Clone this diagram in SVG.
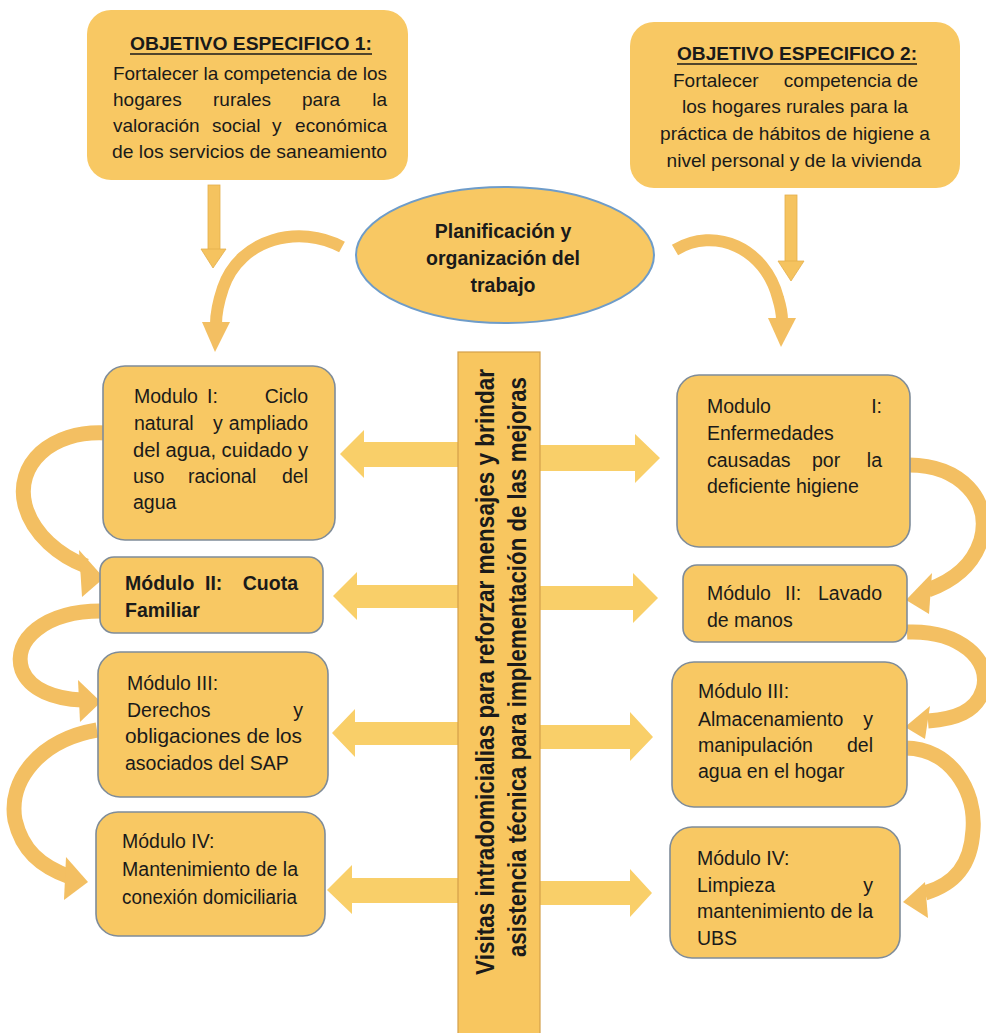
<svg xmlns="http://www.w3.org/2000/svg" width="986" height="1033" viewBox="0 0 986 1033">
<style>
.box{fill:#F8C863;stroke:#7F8C99;stroke-width:1.6}
.obj{fill:#F8C863;stroke:none}
.t{font-family:"Liberation Sans",Arial,sans-serif;font-size:19.5px;fill:#1a1a1a}
.o{font-family:"Liberation Sans",Arial,sans-serif;font-size:19px;fill:#1a1a1a}
.b{font-weight:bold}
.e{text-anchor:end}
.m{text-anchor:middle}
.arr{fill:#F9CF69}
.curve{fill:none;stroke:#F3BF62;stroke-width:15}
.chead{fill:#F3BF62}
.down{fill:#F5C35F;stroke:#E3AE4C;stroke-width:0.8}
</style>
<rect width="986" height="1033" fill="#ffffff"/>

<g id="connectors">
  <!-- top down arrows -->
  <rect class="down" x="208" y="185" width="12" height="65"/>
  <polygon class="down" points="201,249 226,249 213,268"/>
  <rect class="down" x="785" y="195" width="12" height="67"/>
  <polygon class="down" points="778,261 804,261 791,281"/>
  <!-- top curved arrows -->
  <path class="curve" style="stroke-width:12" d="M 342 247 C 300 224, 240 238, 223 288 C 218 303, 216 313, 216 324"/>
  <polygon class="chead" points="202,322 230,322 215,352"/>
  <path class="curve" style="stroke-width:12" d="M 675 250 C 715 226, 765 248, 778 298 C 781 308, 782 314, 782 320"/>
  <polygon class="chead" points="768,318 796,318 781,347"/>
  <!-- left side curved arrows -->
  <path class="curve" d="M 106 433 C 50 430, 15 465, 25 505 C 33 535, 60 556, 86 566"/>
  <polygon class="chead" points="79,550 104,578 82,597"/>
  <path class="curve" d="M 101 611 C 45 611, 12 640, 22 670 C 30 690, 55 699, 82 700"/>
  <polygon class="chead" points="78,680 101,702 80,722"/>
  <path class="curve" d="M 97 730 C 40 740, 8 780, 15 820 C 22 850, 40 866, 70 877"/>
  <polygon class="chead" points="66,857 88,882 64,900"/>
  <!-- right side curved arrows -->
  <path class="curve" d="M 909 465 C 960 465, 992 500, 981 540 C 973 565, 955 580, 928 590"/>
  <polygon class="chead" points="932,573 906,600 929,614"/>
  <path class="curve" d="M 907 632 C 960 630, 992 660, 983 690 C 976 712, 955 719, 928 721"/>
  <polygon class="chead" points="930,706 905,727 925,739"/>
  <path class="curve" d="M 905 748 C 950 748, 976 790, 973 830 C 971 865, 955 884, 925 893"/>
  <polygon class="chead" points="925,882 903,902 928,918"/>
  <!-- horizontal double arrows -->
  <polygon class="arr" points="340,454 364,430 364,442 470,442 470,467 364,467 364,478"/>
  <polygon class="arr" points="530,445 635,445 635,434 660,458 635,483 635,471 530,471"/>
  <polygon class="arr" points="333,596 357,572 357,585 470,585 470,608 357,608 357,620"/>
  <polygon class="arr" points="530,586 633,586 633,573 658,598 633,623 633,610 530,610"/>
  <polygon class="arr" points="332,733 355,709 355,722 470,722 470,745 355,745 355,757"/>
  <polygon class="arr" points="530,725 630,725 630,712 653,737 630,761 630,749 530,749"/>
  <polygon class="arr" points="327,890 352,865 352,878 470,878 470,903 352,903 352,914"/>
  <polygon class="arr" points="530,881 630,881 630,869 652,893 630,917 630,905 530,905"/>
</g>

<g id="objetivo1">
  <rect class="obj" x="87" y="10" width="321" height="170" rx="24"/>
  <text class="o b m" x="251" y="50" textLength="242" lengthAdjust="spacingAndGlyphs">OBJETIVO ESPECIFICO 1:</text>
  <line x1="130" y1="54" x2="372" y2="54" stroke="#1a1a1a" stroke-width="1.6"/>
  <text class="o" x="113" y="80" textLength="274" lengthAdjust="spacingAndGlyphs">Fortalecer la competencia de los</text>
  <text class="o" y="106"><tspan x="113">hogares</tspan><tspan x="213">rurales</tspan><tspan x="302">para</tspan></text>
  <text class="o e" x="387" y="106">la</text>
  <text class="o" y="132"><tspan x="113">valoración</tspan><tspan x="212">social</tspan><tspan x="272">y</tspan></text>
  <text class="o e" x="387" y="132">económica</text>
  <text class="o" x="112" y="158" textLength="275" lengthAdjust="spacingAndGlyphs">de los servicios de saneamiento</text>
</g>

<g id="objetivo2">
  <rect class="obj" x="630" y="22" width="330" height="166" rx="24"/>
  <text class="o b m" x="797" y="60" textLength="240" lengthAdjust="spacingAndGlyphs">OBJETIVO ESPECIFICO 2:</text>
  <line x1="677" y1="64" x2="917" y2="64" stroke="#1a1a1a" stroke-width="1.6"/>
  <text class="o" x="673" y="87">Fortalecer</text>
  <text class="o e" x="918" y="87">competencia de</text>
  <text class="o m" x="795" y="113" textLength="226" lengthAdjust="spacingAndGlyphs">los hogares rurales para la</text>
  <text class="o m" x="795" y="140" textLength="270" lengthAdjust="spacingAndGlyphs">práctica de hábitos de higiene a</text>
  <text class="o m" x="794" y="167" textLength="255" lengthAdjust="spacingAndGlyphs">nivel personal y de la vivienda</text>
</g>

<g id="planificacion">
  <ellipse cx="505" cy="255" rx="149" ry="68" fill="#F8C863" stroke="#6E9CC9" stroke-width="2"/>
  <text class="t b m" x="503" y="238">Planificación y</text>
  <text class="t b m" x="503" y="265">organización del</text>
  <text class="t b m" x="503" y="292">trabajo</text>
</g>

<g id="visitas">
  <rect x="458" y="352" width="82" height="700" fill="#F8C65F" stroke="#D4A04A" stroke-width="1.2"/>
  <text class="t b m" style="font-size:25px" transform="translate(494,672) rotate(-90)" x="0" y="0" textLength="606" lengthAdjust="spacingAndGlyphs">Visitas intradomicialias para reforzar mensajes y brindar</text>
  <text class="t b m" style="font-size:25px" transform="translate(526,667) rotate(-90)" x="0" y="0" textLength="580" lengthAdjust="spacingAndGlyphs">asistencia técnica para implementación de las mejoras</text>
</g>

<g id="modulo1-izq">
  <rect class="box" x="103" y="366" width="232" height="174" rx="22"/>
  <text class="t" y="403"><tspan x="134">Modulo</tspan><tspan x="207">I:</tspan></text>
  <text class="t e" x="308" y="403">Ciclo</text>
  <text class="t" y="430"><tspan x="134">natural</tspan><tspan x="213">y</tspan></text>
  <text class="t e" x="308" y="430">ampliado</text>
  <text class="t" x="133" y="457" textLength="175" lengthAdjust="spacingAndGlyphs">del agua, cuidado y</text>
  <text class="t" y="483"><tspan x="133">uso</tspan><tspan x="188">racional</tspan></text>
  <text class="t e" x="308" y="483">del</text>
  <text class="t" x="133" y="509">agua</text>
</g>

<g id="modulo2-izq">
  <rect class="box" x="100" y="557" width="223" height="76" rx="14"/>
  <text class="t b" y="590"><tspan x="125">Módulo</tspan><tspan x="205">II:</tspan></text>
  <text class="t b e" x="298" y="590">Cuota</text>
  <text class="t b" x="125" y="617">Familiar</text>
</g>

<g id="modulo3-izq">
  <rect class="box" x="98" y="652" width="230" height="145" rx="22"/>
  <text class="t" x="127" y="690">Módulo III:</text>
  <text class="t" x="127" y="717">Derechos</text>
  <text class="t e" x="303" y="717">y</text>
  <text class="t" x="125" y="743" textLength="177" lengthAdjust="spacingAndGlyphs">obligaciones de los</text>
  <text class="t" x="125" y="770">asociados del SAP</text>
</g>

<g id="modulo4-izq">
  <rect class="box" x="96" y="812" width="229" height="124" rx="22"/>
  <text class="t" x="122" y="848">Módulo IV:</text>
  <text class="t" x="122" y="876" textLength="176" lengthAdjust="spacingAndGlyphs">Mantenimiento de la</text>
  <text class="t" x="122" y="904" textLength="175" lengthAdjust="spacingAndGlyphs">conexión domiciliaria</text>
</g>

<g id="modulo1-der">
  <rect class="box" x="677" y="375" width="233" height="172" rx="22"/>
  <text class="t" x="707" y="413">Modulo</text>
  <text class="t e" x="882" y="413">I:</text>
  <text class="t" x="707" y="440">Enfermedades</text>
  <text class="t" y="467"><tspan x="707">causadas</tspan><tspan x="812">por</tspan></text>
  <text class="t e" x="882" y="467">la</text>
  <text class="t" x="707" y="493">deficiente higiene</text>
</g>

<g id="modulo2-der">
  <rect class="box" x="683" y="565" width="224" height="77" rx="14"/>
  <text class="t" y="600"><tspan x="707">Módulo</tspan><tspan x="785">II:</tspan></text>
  <text class="t e" x="882" y="600">Lavado</text>
  <text class="t" x="707" y="627">de manos</text>
</g>

<g id="modulo3-der">
  <rect class="box" x="672" y="662" width="235" height="145" rx="22"/>
  <text class="t" x="698" y="698">Módulo III:</text>
  <text class="t" x="698" y="726">Almacenamiento</text>
  <text class="t e" x="873" y="726">y</text>
  <text class="t" x="698" y="752">manipulación</text>
  <text class="t e" x="873" y="752">del</text>
  <text class="t" x="698" y="778">agua en el hogar</text>
</g>

<g id="modulo4-der">
  <rect class="box" x="670" y="827" width="230" height="131" rx="22"/>
  <text class="t" x="697" y="865">Módulo IV:</text>
  <text class="t" x="697" y="892">Limpieza</text>
  <text class="t e" x="873" y="892">y</text>
  <text class="t" x="697" y="918" textLength="176" lengthAdjust="spacingAndGlyphs">mantenimiento de la</text>
  <text class="t" x="697" y="945">UBS</text>
</g>
</svg>
